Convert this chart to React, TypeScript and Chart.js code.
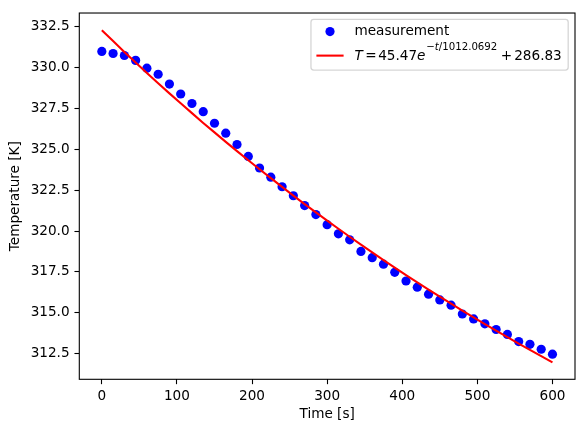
import { useEffect, useRef } from "react";
import { Chart, registerables } from "chart.js";

Chart.register(...registerables);

// ---- data ----
const times = [
  0, 15, 30, 45, 60, 75, 90, 105, 120, 135, 150, 165, 180, 195, 210, 225, 240, 255, 270, 285,
  300, 315, 330, 345, 360, 375, 390, 405, 420, 435, 450, 465, 480, 495, 510, 525, 540, 555, 570,
  585, 600,
];
const measured = [
  331.0, 330.87, 330.75, 330.45, 329.97, 329.6, 329.0, 328.39, 327.81, 327.31, 326.6, 325.99,
  325.3, 324.57, 323.86, 323.3, 322.71, 322.16, 321.56, 321.01, 320.39, 319.83, 319.46, 318.75,
  318.37, 317.97, 317.47, 316.94, 316.56, 316.13, 315.78, 315.46, 314.92, 314.62, 314.32,
  313.97, 313.67, 313.23, 313.06, 312.76, 312.46,
];
const fitted = [
  332.3, 331.63, 330.97, 330.32, 329.68, 329.05, 328.43, 327.82, 327.22, 326.62, 326.04, 325.46,
  324.89, 324.33, 323.78, 323.24, 322.7, 322.17, 321.65, 321.14, 320.64, 320.14, 319.65, 319.17,
  318.69, 318.22, 317.76, 317.3, 316.86, 316.41, 315.98, 315.55, 315.13, 314.71, 314.3, 313.9,
  313.5, 313.11, 312.72, 312.34, 311.96,
];
const xTicks = [0, 100, 200, 300, 400, 500, 600];
const yTicks = [312.5, 315.0, 317.5, 320.0, 322.5, 325.0, 327.5, 330.0, 332.5];
const measurementLabel = "measurement";
const fitLabel = "T = 45.47e^{−t/1012.0692} + 286.83";
const xTitle = "Time [s]";
const yTitle = "Temperature [K]";

// ---- style ----
const FAMILY = "'DejaVu Sans', sans-serif";
const FS = 13.6;
const BLUE = "#0000ff";
const RED = "#ff0000";

type Piece = { t: string; italic?: boolean; sup?: boolean; gap?: number };
const fitPieces: Piece[] = [
  { t: "T", italic: true, gap: 2.5 },
  { t: "=", gap: 1.5 },
  { t: "45.47" },
  { t: "e", italic: true, gap: 0.8 },
  { t: "\u2212", sup: true },
  { t: "t", italic: true, sup: true },
  { t: "/1012.0692", sup: true, gap: 3.5 },
  { t: "+", gap: 2 },
  { t: "286.83" },
];

function fontFor(p: Piece) {
  const size = p.sup ? FS * 0.75 : FS;
  return `${p.italic ? "italic " : ""}${size}px ${FAMILY}`;
}

const overlayPlugin = {
  id: "overlay",
  afterDraw(chart: any) {
    const { ctx, chartArea: a } = chart;
    ctx.save();
    // spines
    ctx.strokeStyle = "#000";
    ctx.lineWidth = 1.1;
    ctx.strokeRect(a.left, a.top, a.right - a.left, a.bottom - a.top);

    // legend
    let W = 0;
    for (const p of fitPieces) {
      ctx.font = fontFor(p);
      W += ctx.measureText(p.t).width + (p.gap || 0);
    }
    const pad = 0.4 * FS;
    const handle = 2 * FS;
    const textPad = 0.8 * FS;
    const width = pad + handle + textPad + W + pad + 1;
    const right = a.right - 0.5 * FS;
    const top = a.top + 0.47 * FS;
    const height = 50.7;
    const left = right - width;
    const r = 2.8;
    ctx.beginPath();
    ctx.moveTo(left + r, top);
    ctx.lineTo(right - r, top);
    ctx.arcTo(right, top, right, top + r, r);
    ctx.lineTo(right, top + height - r);
    ctx.arcTo(right, top + height, right - r, top + height, r);
    ctx.lineTo(left + r, top + height);
    ctx.arcTo(left, top + height, left, top + height - r, r);
    ctx.lineTo(left, top + r);
    ctx.arcTo(left, top, left + r, top, r);
    ctx.closePath();
    ctx.fillStyle = "rgba(255,255,255,0.8)";
    ctx.fill();
    ctx.strokeStyle = "rgba(204,204,204,0.8)";
    ctx.lineWidth = 1.3;
    ctx.stroke();

    const hx = left + pad;
    const tx = hx + handle + textPad;
    // row 1
    ctx.fillStyle = BLUE;
    ctx.beginPath();
    ctx.arc(hx + handle / 2, top + 12.2, 4.6, 0, Math.PI * 2);
    ctx.fill();
    ctx.fillStyle = "#000";
    ctx.textBaseline = "alphabetic";
    ctx.textAlign = "left";
    ctx.font = `${FS}px ${FAMILY}`;
    ctx.fillText(measurementLabel, tx, top + 15.8);
    // row 2
    ctx.strokeStyle = RED;
    ctx.lineWidth = 2.08;
    ctx.beginPath();
    ctx.moveTo(hx, top + 36.2);
    ctx.lineTo(hx + handle, top + 36.2);
    ctx.stroke();
    let x = tx;
    const base = top + 41.0;
    for (const p of fitPieces) {
      ctx.font = fontFor(p);
      ctx.fillText(p.t, x, p.sup ? base - 10.6 : base);
      x += ctx.measureText(p.t).width + (p.gap || 0);
    }
    ctx.restore();
  },
};

export default function App() {
  const ref = useRef<HTMLCanvasElement | null>(null);
  useEffect(() => {
    if (!ref.current) return;
    const font = { family: FAMILY, size: FS };
    const grid = {
      drawOnChartArea: false,
      drawTicks: true,
      tickLength: 4.86,
      tickWidth: 1.1,
      tickColor: "#000",
    };
    const chart = new Chart(ref.current, {
      type: "scatter",
      data: {
        datasets: [
          {
            label: measurementLabel,
            data: times.map((t, i) => ({ x: t, y: measured[i] })),
            backgroundColor: BLUE,
            borderColor: BLUE,
            pointRadius: 4.6,
            pointHoverRadius: 4.6,
            borderWidth: 0,
            showLine: false,
            order: 2,
          },
          {
            label: fitLabel,
            data: times.map((t, i) => ({ x: t, y: fitted[i] })),
            borderColor: RED,
            backgroundColor: RED,
            borderWidth: 2.08,
            pointRadius: 0,
            pointHoverRadius: 0,
            showLine: true,
            fill: false,
            tension: 0,
            order: 1,
          },
        ],
      },
      options: {
        animation: false,
        responsive: false,
        events: [],
        layout: { padding: { left: 0, top: 9.5, right: 9, bottom: 0 } },
        plugins: { legend: { display: false }, tooltip: { enabled: false } },
        scales: {
          x: {
            type: "linear",
            min: -30,
            max: 630,
            afterBuildTicks: (s: any) => {
              s.ticks = xTicks.map((v) => ({ value: v }));
            },
            afterFit: (s: any) => {
              s.height = 52.7;
            },
            ticks: {
              font,
              color: "#000",
              padding: 4.0,
              maxRotation: 0,
              autoSkip: false,
              callback: (v: any) => String(v),
            },
            grid,
            border: { display: false },
            title: {
              display: true,
              text: xTitle,
              font,
              color: "#000",
              padding: { top: 0, bottom: 9.3 },
            },
          },
          y: {
            type: "linear",
            min: 310.92,
            max: 333.35,
            afterBuildTicks: (s: any) => {
              s.ticks = yTicks.map((v) => ({ value: v }));
            },
            afterFit: (s: any) => {
              s.width = 79.3;
            },
            ticks: {
              font,
              color: "#000",
              padding: 4.86,
              autoSkip: false,
              callback: (v: any) => Number(v).toFixed(1),
            },
            grid,
            border: { display: false },
            title: {
              display: true,
              text: yTitle,
              font,
              color: "#000",
              padding: { top: 7.2, bottom: 0 },
            },
          },
        },
      },
      plugins: [overlayPlugin],
    } as any);
    return () => chart.destroy();
  }, []);
  return (
    <div style={{ position: "absolute", left: 0, top: 0, width: 584, height: 432, background: "#fff" }}>
      <canvas ref={ref} width={584} height={432} style={{ display: "block" }} />
    </div>
  );
}
